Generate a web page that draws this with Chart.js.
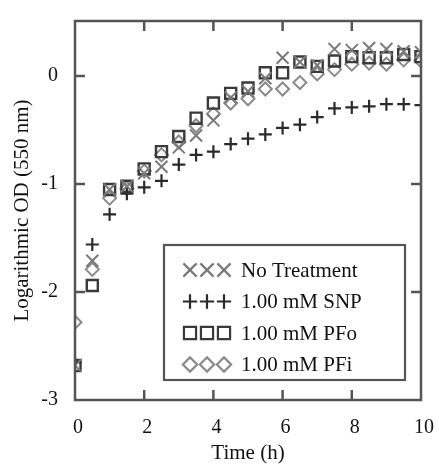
<!DOCTYPE html>
<html>
<head>
<meta charset="utf-8">
<script src="https://cdn.jsdelivr.net/npm/chart.js@4/dist/chart.umd.min.js"></script>
<style>
  html, body { margin: 0; padding: 0; background: #fff; }
</style>
</head>
<body>
<canvas id="growth" width="439" height="464"></canvas>
<script>
const times       = [0, 0.5, 1, 1.5, 2, 2.5, 3, 3.5, 4, 4.5, 5, 5.5, 6, 6.5, 7, 7.5, 8, 8.5, 9, 9.5, 10]
const noTreatment = [-2.68, -1.71, -1.05, -1.02, -0.90, -0.84, -0.66, -0.55, -0.41, -0.20, -0.14, -0.02, 0.17, 0.13, 0.10, 0.25, 0.24, 0.26, 0.25, 0.23, 0.22]
const snp         = [-2.65, -1.56, -1.28, -1.09, -1.03, -0.97, -0.82, -0.73, -0.70, -0.63, -0.58, -0.54, -0.48, -0.45, -0.38, -0.30, -0.29, -0.28, -0.26, -0.26, -0.27]
const pfo         = [-2.68, -1.94, -1.05, -1.02, -0.86, -0.70, -0.56, -0.39, -0.25, -0.16, -0.11, 0.03, 0.03, 0.13, 0.09, 0.14, 0.18, 0.17, 0.17, 0.20, 0.18]
const pfi         = [-2.28, -1.79, -1.13, -1.04, -0.88, -0.73, -0.61, -0.46, -0.35, -0.25, -0.21, -0.12, -0.12, -0.06, 0.02, 0.06, 0.11, 0.12, 0.11, 0.15, 0.14]

const seriesNames = ['No Treatment', '1.00 mM SNP', '1.00 mM PFo', '1.00 mM PFi']
const xTicks = [0, 2, 4, 6, 8, 10]
const yTicks = [-3, -2, -1, 0]

const FONT = 'Liberation Serif, Times New Roman, serif'
const toPoints = ys => ys.map((y, i) => ({ x: times[i], y }))

// marker look per series: X, +, square, diamond
const markers = [
  { pointStyle: 'crossRot', radius: 8.5, color: '#7a7a7a', width: 2 },
  { pointStyle: 'cross',    radius: 6.5, color: '#2a2a2a', width: 2.2 },
  { pointStyle: 'rect',     radius: 7.8, color: '#3a3a3a', width: 2.4 },
  { pointStyle: 'rectRot',  radius: 6.5, color: '#8a8a8a', width: 2 }
]

const datasets = [noTreatment, snp, pfo, pfi].map((ys, i) => ({
  label: seriesNames[i],
  data: toPoints(ys),
  showLine: false,
  clip: 0,
  pointStyle: markers[i].pointStyle,
  pointRadius: markers[i].radius,
  pointBorderColor: markers[i].color,
  pointBackgroundColor: 'rgba(255,255,255,0)',
  pointBorderWidth: markers[i].width
}))

// frame, inward ticks and the boxed legend with three markers per row
const framePlugin = {
  id: 'frame',
  afterDatasetsDraw(chart) {
    const { ctx, chartArea: a, scales: { x, y } } = chart
    ctx.save()
    ctx.strokeStyle = '#555'
    ctx.lineWidth = 2.5
    ctx.strokeRect(a.left, a.top, a.right - a.left, a.bottom - a.top)

    ctx.beginPath()
    xTicks.slice(1, -1).forEach(v => {
      const px = x.getPixelForValue(v)
      ctx.moveTo(px, a.bottom); ctx.lineTo(px, a.bottom - 10)
      ctx.moveTo(px, a.top);    ctx.lineTo(px, a.top + 10)
    })
    yTicks.slice(1).forEach(v => {
      const py = y.getPixelForValue(v)
      ctx.moveTo(a.left, py);  ctx.lineTo(a.left + 10, py)
      ctx.moveTo(a.right, py); ctx.lineTo(a.right - 10, py)
    })
    ctx.stroke()

    // legend box
    const box = { left: 164, top: 245, right: 405, bottom: 380 }
    ctx.fillStyle = '#fff'
    ctx.fillRect(box.left, box.top, box.right - box.left, box.bottom - box.top)
    ctx.strokeStyle = '#555'
    ctx.lineWidth = 2.2
    ctx.strokeRect(box.left, box.top, box.right - box.left, box.bottom - box.top)

    ctx.font = `21px ${FONT}`
    ctx.textBaseline = 'middle'
    seriesNames.forEach((name, i) => {
      const rowY = 270 + i * 31.5
      const m = markers[i]
      ctx.strokeStyle = m.color
      ctx.fillStyle = 'rgba(255,255,255,0)'
      ;[190, 207, 224].forEach(mx => {
        Chart.helpers.drawPoint(ctx, {
          pointStyle: m.pointStyle,
          radius: m.radius * 1.1,
          rotation: 0,
          borderWidth: m.width
        }, mx, rowY)
      })
      ctx.fillStyle = '#111'
      ctx.textAlign = 'left'
      ctx.fillText(name, 241, rowY + 1)
    })
    ctx.restore()
  }
}

new Chart(document.getElementById('growth'), {
  type: 'scatter',
  data: { datasets },
  options: {
    responsive: false,
    animation: false,
    devicePixelRatio: 1,
    layout: { padding: { top: 14, right: 17, left: 0, bottom: 0 } },
    plugins: {
      legend: { display: false },
      tooltip: { enabled: false }
    },
    scales: {
      x: {
        type: 'linear',
        min: 0,
        max: 10,
        grid: { display: false },
        border: { display: false },
        afterFit: s => { s.height = 64 },
        afterBuildTicks: s => { s.ticks = xTicks.map(v => ({ value: v })) },
        ticks: {
          padding: 8,
          labelOffset: 3,
          color: '#111',
          font: { family: FONT, size: 20 },
          callback: v => String(v)
        },
        title: {
          display: true,
          text: 'Time (h)',
          color: '#111',
          font: { family: FONT, size: 21, lineHeight: 1 },
          padding: { top: 0, bottom: 0 }
        }
      },
      y: {
        type: 'linear',
        min: -3,
        max: 0.51,
        grid: { display: false },
        border: { display: false },
        afterFit: s => { s.width = 75 },
        afterBuildTicks: s => { s.ticks = yTicks.map(v => ({ value: v })) },
        ticks: {
          padding: 9,
          color: '#111',
          font: { family: FONT, size: 20 },
          callback: v => String(v)
        },
        title: {
          display: true,
          text: 'Logarithmic OD (550 nm)',
          color: '#111',
          font: { family: FONT, size: 21, lineHeight: 1 },
          padding: { top: 11.5, bottom: 0 }
        }
      }
    }
  },
  plugins: [framePlugin]
})
</script>
</body>
</html>
